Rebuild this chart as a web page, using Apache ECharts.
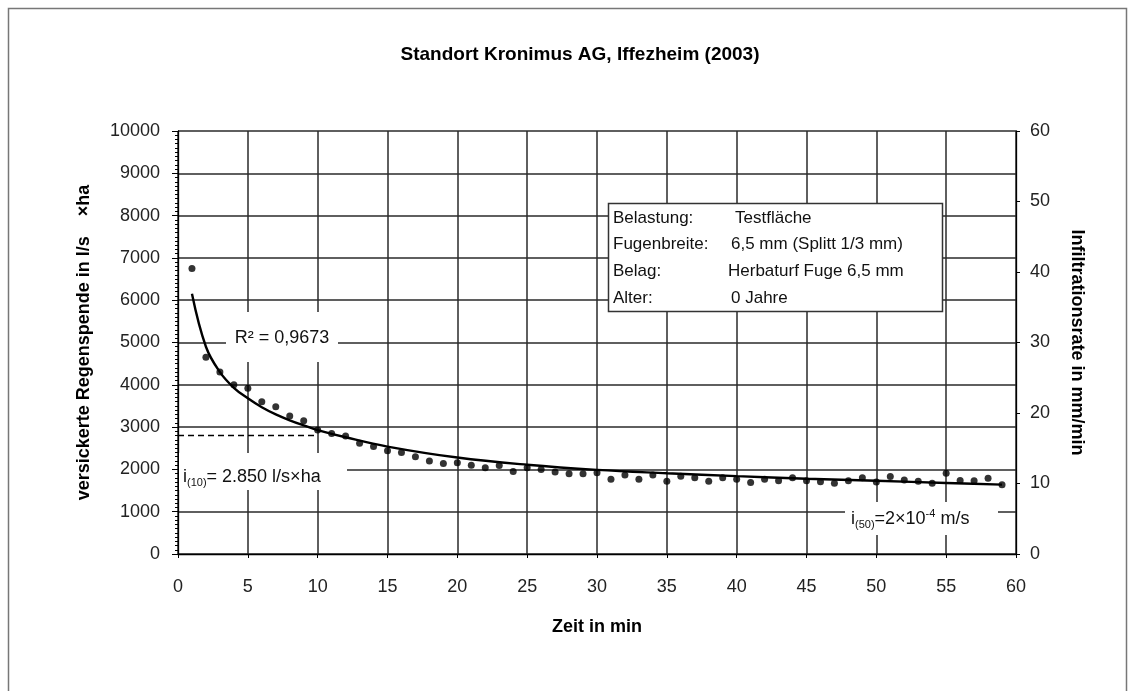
<!DOCTYPE html>
<html><head><meta charset="utf-8">
<script src="https://cdn.jsdelivr.net/npm/echarts@6/dist/echarts.min.js"></script>
<style>html,body{margin:0;padding:0;background:#fff}#c{width:1135px;height:691px}</style>
</head><body><div id="c"></div>
<script>
// ---- data ----
const minutes = [1,2,3,4,5,6,7,8,9,10,11,12,13,14,15,16,17,18,19,20,21,22,23,24,25,26,27,28,29,30,
  31,32,33,34,35,36,37,38,39,40,41,42,43,44,45,46,47,48,49,50,51,52,53,54,55,56,57,58,59];
const regenspende = [6750,4650,4300,4000,3920,3600,3480,3260,3150,2930,2850,2790,2620,2540,2440,2400,2300,2200,2140,2160,
  2100,2040,2090,1950,2040,2000,1940,1900,1900,1920,1770,1870,1770,1870,1720,1840,1800,1720,1800,1770,
  1690,1770,1730,1800,1730,1710,1670,1730,1800,1700,1830,1750,1720,1670,1910,1740,1730,1790,1640];
const trendMinutes = [1,2,3,4,5,6,7,8,9,10,12,15,20,25,30,35,40,45,50,55,59];
const trendValues  = [6150,4900,4300,3930,3680,3470,3300,3160,3040,2930,2760,2540,2280,2110,1990,1910,1840,1780,1730,1680,1640];
const i10Value = 2800;      // dashed reference level
const i10Range = [0, 10];   // minutes covered by the dashed line
const infoRows = [
  ['Belastung:', 'Testfläche'],
  ['Fugenbreite:', '6,5 mm (Splitt 1/3 mm)'],
  ['Belag:', 'Herbaturf Fuge 6,5 mm'],
  ['Alter:', '0 Jahre']
];

const FONT = 'Liberation Sans, Arial, sans-serif';
const chart = echarts.init(document.getElementById('c'), null, {renderer: 'canvas'});

const infoGraphics = [];
infoRows.forEach((r, i) => {
  infoGraphics.push({type: 'text', x: 613, y: 218 + i * 26.7,
    style: {text: r[0], font: '17px ' + FONT, fill: '#111', verticalAlign: 'middle'}});
  infoGraphics.push({type: 'text', x: [735, 731, 728, 731][i], y: 218 + i * 26.7,
    style: {text: r[1], font: '17px ' + FONT, fill: '#111', verticalAlign: 'middle'}});
});

const plain = v => String(v);

const option = {
  backgroundColor: '#fff',
  animation: false,
  textStyle: {fontFamily: FONT},
  title: {
    text: 'Standort Kronimus AG, Iffezheim (2003)',
    left: 575, top: 40, textAlign: 'center',
    textStyle: {fontSize: 19, fontWeight: 'bold', color: '#000', fontFamily: FONT}
  },
  grid: {left: 178, top: 131, right: 119, bottom: 137, containLabel: false},
  xAxis: {
    type: 'value', min: 0, max: 60, interval: 5,
    name: 'Zeit in min', nameLocation: 'middle', nameGap: 64,
    nameTextStyle: {fontSize: 18, fontWeight: 'bold', color: '#000'},
    axisLine: {lineStyle: {color: '#000', width: 1.3}},
    axisTick: {show: true, length: 4, lineStyle: {color: '#000'}},
    axisLabel: {fontSize: 18, color: '#222', margin: 24, formatter: plain},
    splitLine: {show: true, lineStyle: {color: '#2a2a2a', width: 1.5}}
  },
  yAxis: [{
    type: 'value', min: 0, max: 10000, interval: 1000, position: 'left',
    name: 'versickerte Regenspende in l/s    ×ha', nameLocation: 'middle', nameGap: 85,
    nameTextStyle: {fontSize: 18, fontWeight: 'bold', color: '#000'},
    axisLine: {show: true, lineStyle: {color: '#000', width: 1.3}},
    axisTick: {show: true, length: 6, lineStyle: {color: '#000'}},
    minorTick: {show: true, splitNumber: 10, length: 3, lineStyle: {color: '#000'}},
    axisLabel: {fontSize: 18, color: '#222', margin: 18, formatter: plain},
    splitLine: {show: true, lineStyle: {color: '#2a2a2a', width: 1.5}}
  }, {
    type: 'value', min: 0, max: 60, interval: 10, position: 'right',
    name: 'Infiltrationsrate in mm/min', nameLocation: 'middle', nameGap: 52, nameRotate: -90,
    nameTextStyle: {fontSize: 18, fontWeight: 'bold', color: '#000'},
    axisLine: {show: true, lineStyle: {color: '#000', width: 1.3}},
    axisTick: {show: true, length: 4, lineStyle: {color: '#000'}},
    axisLabel: {fontSize: 18, color: '#222', margin: 14, formatter: plain},
    splitLine: {show: false}
  }],
  series: [{
    name: 'Messwerte', type: 'scatter', yAxisIndex: 0,
    data: minutes.map((m, i) => [m, regenspende[i]]),
    symbol: 'circle', symbolSize: 7,
    itemStyle: {color: '#000'}, z: 3
  }, {
    name: 'Trend', type: 'line', yAxisIndex: 0,
    data: trendMinutes.map((m, i) => [m, trendValues[i]]),
    smooth: 0.4, showSymbol: false,
    lineStyle: {color: '#000', width: 2.4}, z: 4,
    markLine: {
      silent: true, symbol: 'none', label: {show: false},
      lineStyle: {color: '#000', type: [6, 4], width: 1.3},
      data: [[{coord: [i10Range[0], i10Value]}, {coord: [i10Range[1], i10Value]}]]
    }
  }],
  graphic: [
    {type: 'rect', shape: {x: 8.5, y: 8.5, width: 1118, height: 720}, style: {fill: 'none', stroke: '#777', lineWidth: 1.5}, z: 1},
    // R² label
    {type: 'rect', shape: {x: 226, y: 312, width: 112, height: 50}, style: {fill: '#fff'}, z: 50},
    {type: 'text', x: 282, y: 338, z: 51,
      style: {text: 'R² = 0,9673', font: '18px ' + FONT, fill: '#111', align: 'center', verticalAlign: 'middle'}},
    // i(10) label
    {type: 'rect', shape: {x: 179, y: 453, width: 168, height: 37}, style: {fill: '#fff'}, z: 50},
    {type: 'text', x: 183, y: 477, z: 51,
      style: {text: '{a|i}{s|(10)}{a|= 2.850 l/s×ha}', font: '18px ' + FONT, fill: '#111', verticalAlign: 'middle',
        rich: {a: {fontSize: 18, lineHeight: 22, fontFamily: FONT, fill: '#111'},
               s: {fontSize: 11, lineHeight: 12, verticalAlign: 'bottom', fontFamily: FONT, fill: '#111'}}}},
    // i(50) label
    {type: 'rect', shape: {x: 845, y: 502, width: 153, height: 33}, style: {fill: '#fff'}, z: 50},
    {type: 'text', x: 851, y: 519, z: 51,
      style: {text: '{a|i}{s|(50)}{a|=2×10}{p|-4}{a| m/s}', font: '18px ' + FONT, fill: '#111', verticalAlign: 'middle',
        rich: {a: {fontSize: 18, lineHeight: 22, fontFamily: FONT, fill: '#111'},
               s: {fontSize: 11, lineHeight: 12, verticalAlign: 'bottom', fontFamily: FONT, fill: '#111'},
               p: {fontSize: 11, lineHeight: 12, verticalAlign: 'top', fontFamily: FONT, fill: '#111'}}}},
    // info box
    {type: 'rect', shape: {x: 608.5, y: 203.5, width: 334, height: 108}, style: {fill: '#fff', stroke: '#333', lineWidth: 1.5}, z: 50},
    ...infoGraphics.map(g => Object.assign(g, {z: 51}))
  ]
};
chart.setOption(option);
</script></body></html>
